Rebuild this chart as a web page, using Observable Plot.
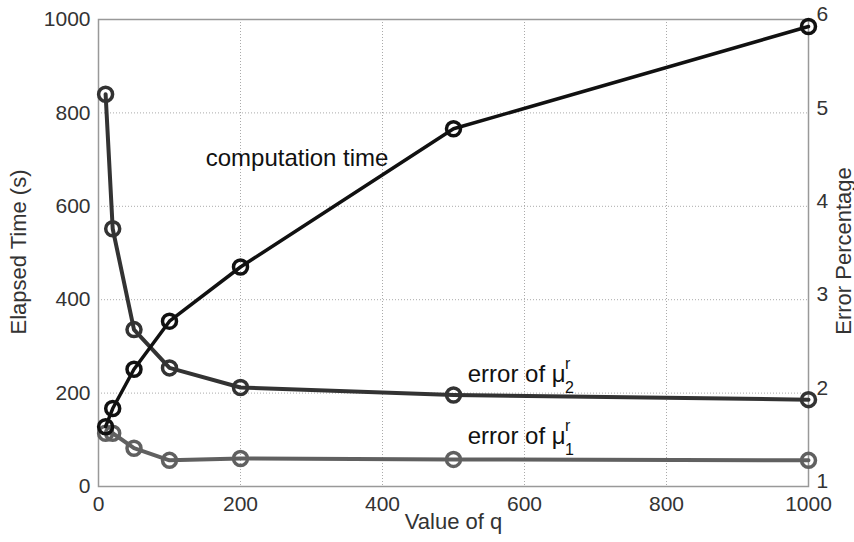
<!DOCTYPE html>
<html>
<head>
<meta charset="utf-8">
<script src="https://cdn.jsdelivr.net/npm/d3@7"></script>
<script src="https://cdn.jsdelivr.net/npm/@observablehq/plot@0.6"></script>
<style>
  html, body { margin: 0; padding: 0; background: #fff; }
</style>
</head>
<body>
<div id="chart"></div>
<script>
// ---- data ----
const qValues   = [10, 20, 50, 100, 200, 500, 1000];
const timeSec   = [128, 167, 251, 354, 470, 766, 985];
const errMu2    = [5.2, 3.76, 2.68, 2.27, 2.06, 1.98, 1.93];
const errMu1    = [1.57, 1.57, 1.41, 1.28, 1.30, 1.29, 1.28];

const xTicks    = [0, 200, 400, 600, 800, 1000];
const timeTicks = [0, 200, 400, 600, 800, 1000];
const errTicks  = [1, 2, 3, 4, 5, 6];

// annotation texts
const labelTime = "computation time";
const labelErr  = "error of \u03BC";

// ---- dual-axis mapping: right axis (error %) onto the left (time) scale ----
const errMin = errTicks[0], errMax = errTicks[errTicks.length - 1];
const timeMax = timeTicks[timeTicks.length - 1];
const errToY = e => (e - errMin) / (errMax - errMin) * timeMax;
const errLabel = new Map(errTicks.map(e => [errToY(e), String(e)]));

const timeData = qValues.map((q, i) => ({q, v: timeSec[i]}));
const mu2Data  = qValues.map((q, i) => ({q, v: errToY(errMu2[i])}));
const mu1Data  = qValues.map((q, i) => ({q, v: errToY(errMu1[i])}));

const cTime = "#111", cMu2 = "#333", cMu1 = "#606060";
const font = "'Liberation Sans', Arial, Helvetica, sans-serif";

const chart = Plot.plot({
  width: 854,
  height: 542,
  marginLeft: 98,
  marginRight: 46,
  marginTop: 19,
  marginBottom: 56,
  x: {domain: [0, 1000]},
  y: {domain: [0, 1000]},
  style: {fontFamily: font, fontSize: "21px", color: "#333", background: "#fff", overflow: "visible"},
  marks: [
    Plot.gridX(xTicks, {stroke: "#aaa", strokeOpacity: 1, strokeDasharray: "1,2"}),
    Plot.gridY(timeTicks, {stroke: "#aaa", strokeOpacity: 1, strokeDasharray: "1,2"}),
    Plot.frame({stroke: "#999", strokeWidth: 1.5}),
    Plot.axisX(xTicks, {tickSize: 0, tickPadding: 10, label: null, fontSize: 21, tickFormat: d => String(d)}),
    Plot.axisY(timeTicks, {anchor: "left", tickSize: 0, tickPadding: 8, label: null, fontSize: 21, tickFormat: d => String(d)}),
    Plot.axisY([...errLabel.keys()], {anchor: "right", tickSize: 0, tickPadding: 8, label: null, fontSize: 21, dy: -5,
      tickFormat: d => errLabel.get(d)}),
    Plot.text([ "Elapsed Time (s)" ], {frameAnchor: "left", textAnchor: "middle", dx: -80, dy: -1, rotate: -90, text: d => d, fontSize: 22, fill: "#333"}),
    Plot.text([ "Error Percentage" ], {frameAnchor: "right", textAnchor: "middle", dx: 35, dy: -2, rotate: -90, text: d => d, fontSize: 22, fill: "#333"}),
    Plot.text([ "Value of q" ], {frameAnchor: "bottom", dy: 42, text: d => d, fontSize: 22, fill: "#333"}),

    Plot.line(mu1Data, {x: "q", y: "v", stroke: cMu1, strokeWidth: 4}),
    Plot.dot(mu1Data, {x: "q", y: "v", r: 7, stroke: cMu1, strokeWidth: 3.5, fill: "none"}),
    Plot.line(mu2Data, {x: "q", y: "v", stroke: cMu2, strokeWidth: 4}),
    Plot.dot(mu2Data, {x: "q", y: "v", r: 7, stroke: cMu2, strokeWidth: 3.5, fill: "none"}),
    Plot.line(timeData, {x: "q", y: "v", stroke: cTime, strokeWidth: 3.5}),
    Plot.dot(timeData, {x: "q", y: "v", r: 7, stroke: cTime, strokeWidth: 3.5, fill: "none"}),

    // annotations
    Plot.text([{q: 151, v: 702, t: labelTime}], {x: "q", y: "v", text: "t", textAnchor: "start", fontSize: 24, fill: "#111"}),
    Plot.text([{q: 520, v: 240, t: labelErr}], {x: "q", y: "v", text: "t", textAnchor: "start", fontSize: 24, fill: "#111"}),
    Plot.text([{q: 657, v: 263, t: "r"}], {x: "q", y: "v", text: "t", textAnchor: "start", fontSize: 16, fill: "#111"}),
    Plot.text([{q: 657, v: 212, t: "2"}], {x: "q", y: "v", text: "t", textAnchor: "start", fontSize: 16, fill: "#111"}),
    Plot.text([{q: 520, v: 107, t: labelErr}], {x: "q", y: "v", text: "t", textAnchor: "start", fontSize: 24, fill: "#111"}),
    Plot.text([{q: 657, v: 130, t: "r"}], {x: "q", y: "v", text: "t", textAnchor: "start", fontSize: 16, fill: "#111"}),
    Plot.text([{q: 657, v: 79, t: "1"}], {x: "q", y: "v", text: "t", textAnchor: "start", fontSize: 16, fill: "#111"})
  ]
});
document.getElementById("chart").appendChild(chart);
</script>
</body>
</html>
